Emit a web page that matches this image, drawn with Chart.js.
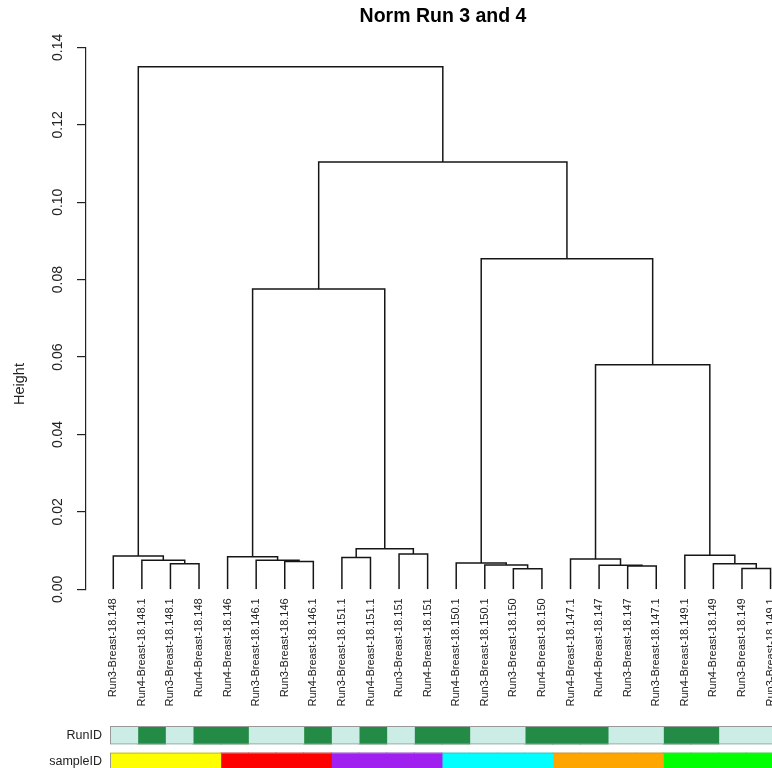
<!DOCTYPE html>
<html>
<head>
<meta charset="utf-8">
<script src="https://cdn.jsdelivr.net/npm/chart.js@4.4.1/dist/chart.umd.min.js"></script>
<style>
  html, body { margin: 0; padding: 0; background: #fff; overflow: hidden; width: 772px; height: 768px; }
  #tree { position: absolute; left: 0; top: 0; }
  #bars { position: absolute; left: 0; top: 722px; }
</style>
</head>
<body>
<canvas id="tree" width="886" height="720"></canvas>
<canvas id="bars" width="774" height="53"></canvas>
<script>
// leaves, left to right
const leafLabels = [
  "Run3-Breast-18.148", "Run4-Breast-18.148.1", "Run3-Breast-18.148.1", "Run4-Breast-18.148",
  "Run4-Breast-18.146", "Run3-Breast-18.146.1", "Run3-Breast-18.146", "Run4-Breast-18.146.1",
  "Run3-Breast-18.151.1", "Run4-Breast-18.151.1", "Run3-Breast-18.151", "Run4-Breast-18.151",
  "Run4-Breast-18.150.1", "Run3-Breast-18.150.1", "Run3-Breast-18.150", "Run4-Breast-18.150",
  "Run4-Breast-18.147.1", "Run4-Breast-18.147", "Run3-Breast-18.147", "Run3-Breast-18.147.1",
  "Run4-Breast-18.149.1", "Run4-Breast-18.149", "Run3-Breast-18.149", "Run3-Breast-18.149.1"
];

// merges like hclust: negative = leaf number, positive = earlier merge row
const mergeLeft  = [-15, -23, -19, -18, -14, -22, -3, -13, -7, -6, -2, -17, -9, -5, -1, -21, -11, 13, 12, 14, 8, 20, 15];
const mergeRight = [-16, -24, -20, 3, 1, 2, -4, 5, -8, 9, 7, 4, -10, 10, 11, 6, -12, 17, 16, 18, 19, 21, 22];
const mergeHeight = [0.0053, 0.0054, 0.0060, 0.0062, 0.0063, 0.0066, 0.0066, 0.0068, 0.0072, 0.0075, 0.0075, 0.0078,
  0.0082, 0.0084, 0.0086, 0.0088, 0.0091, 0.0105, 0.0580, 0.0776, 0.0854, 0.1104, 0.1350];

const yTicks = [0, 0.02, 0.04, 0.06, 0.08, 0.10, 0.12, 0.14];

const runIDs = ["Run3", "Run4", "Run3", "Run4", "Run4", "Run3", "Run3", "Run4", "Run3", "Run4", "Run3", "Run4",
  "Run4", "Run3", "Run3", "Run4", "Run4", "Run4", "Run3", "Run3", "Run4", "Run4", "Run3", "Run3"];
const sampleIDs = ["18.148", "18.148", "18.148", "18.148", "18.146", "18.146", "18.146", "18.146",
  "18.151", "18.151", "18.151", "18.151", "18.150", "18.150", "18.150", "18.150",
  "18.147", "18.147", "18.147", "18.147", "18.149", "18.149", "18.149", "18.149"];
const barRows = ["RunID", "sampleID"];

const runColors = { Run3: "#ccece6", Run4: "#238b45" };
const sampleColors = { "18.148": "#ffff00", "18.146": "#ff0000", "18.151": "#a020f0",
  "18.150": "#00ffff", "18.147": "#ffa500", "18.149": "#00ff00" };

const FONT = "'Liberation Sans', Arial, sans-serif";

// build the U shaped links of the dendrogram
let nodeX = [];
function nodePos(ref) {
  if (ref < 0) return { x: -ref, h: 0 };
  return { x: nodeX[ref - 1], h: mergeHeight[ref - 1] };
}
const treeSets = mergeLeft.map((a, i) => {
  let A = nodePos(a);
  let B = nodePos(mergeRight[i]);
  let h = mergeHeight[i];
  nodeX[i] = (A.x + B.x) / 2;
  return {
    data: [{ x: A.x, y: A.h }, { x: A.x, y: h }, { x: B.x, y: h }, { x: B.x, y: B.h }],
    showLine: true,
    borderColor: "#161616",
    borderWidth: 1.5,
    pointRadius: 0,
    tension: 0,
    fill: false
  };
});

const heightLabel = {
  id: "heightLabel",
  afterDraw(chart) {
    let ctx = chart.ctx;
    ctx.save();
    ctx.translate(20, 384);
    ctx.rotate(-Math.PI / 2);
    ctx.font = "14.5px " + FONT;
    ctx.fillStyle = "#222";
    ctx.textAlign = "center";
    ctx.textBaseline = "middle";
    ctx.fillText("Height", 0, 0);
    ctx.restore();
  }
};

new Chart(document.getElementById("tree"), {
  type: "scatter",
  data: { datasets: treeSets },
  options: {
    responsive: false,
    animation: false,
    devicePixelRatio: 1,
    plugins: {
      legend: { display: false },
      tooltip: { enabled: false },
      title: {
        display: true,
        text: "Norm Run 3 and 4",
        color: "#000",
        font: { family: FONT, size: 19.5, weight: "bold" },
        padding: { top: 5, bottom: 19 }
      }
    },
    scales: {
      x: {
        type: "linear",
        min: 0.045,
        max: 28.04,
        afterBuildTicks: s => { s.ticks = leafLabels.map((_, i) => ({ value: i + 1 })); },
        afterFit: s => { s.height = 130.7; },
        grid: { display: false, drawTicks: false },
        border: { display: false },
        ticks: {
          autoSkip: false,
          minRotation: 90,
          maxRotation: 90,
          padding: 9,
          color: "#222",
          font: { family: FONT, size: 11 },
          callback: (v, i) => leafLabels[i]
        }
      },
      y: {
        min: 0,
        max: 0.14,
        afterBuildTicks: s => { s.ticks = yTicks.map(v => ({ value: v })); },
        afterFit: s => { s.width = 86; },
        grid: { drawOnChartArea: false, drawTicks: true, tickLength: 9, color: "#222", lineWidth: 1.2 },
        border: { display: true, color: "#222", width: 1.2 },
        ticks: {
          minRotation: 90,
          maxRotation: 90,
          crossAlign: "center",
          padding: 5,
          color: "#222",
          font: { family: FONT, size: 14 },
          callback: v => v.toFixed(2)
        }
      }
    }
  },
  plugins: [heightLabel]
});

// colour bars under the tree
const cellSets = leafLabels.map((_, i) => ({
  data: [1, 1],
  backgroundColor: [runColors[runIDs[i]], sampleColors[sampleIDs[i]]],
  borderWidth: 0,
  inflateAmount: 0.5,
  stack: "cells",
  barPercentage: 0.653,
  categoryPercentage: 1
}));
cellSets.push({
  data: [[0, leafLabels.length], [0, leafLabels.length]],
  stack: "outline",
  grouped: false,
  backgroundColor: "rgba(0,0,0,0)",
  borderColor: "#999",
  borderWidth: 1,
  borderSkipped: false,
  inflateAmount: 0,
  order: -1,
  barPercentage: 0.69,
  categoryPercentage: 1
});

new Chart(document.getElementById("bars"), {
  type: "bar",
  data: { labels: barRows, datasets: cellSets },
  options: {
    indexAxis: "y",
    responsive: false,
    animation: false,
    devicePixelRatio: 1,
    plugins: { legend: { display: false }, tooltip: { enabled: false } },
    scales: {
      x: { display: false, stacked: true, min: 0, max: leafLabels.length },
      y: {
        stacked: true,
        afterFit: s => { s.width = 110; s.paddingTop = 0; s.paddingBottom = 0; },
        grid: { display: false, drawTicks: false },
        border: { display: false },
        ticks: { padding: 8, color: "#222", font: { family: FONT, size: 12.5 } }
      }
    }
  }
});
</script>
</body>
</html>
